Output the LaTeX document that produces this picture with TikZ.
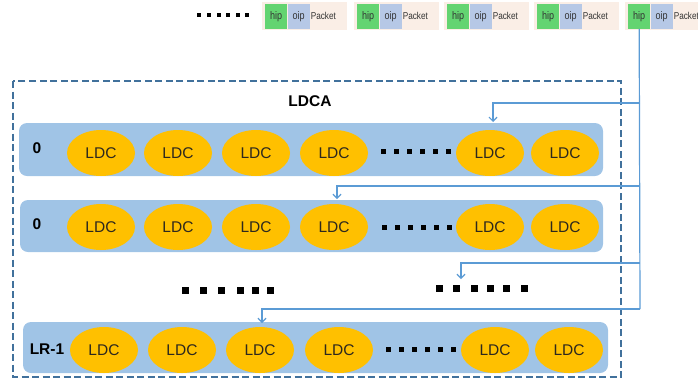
\documentclass[tikz,border=0pt]{standalone}
\usepackage{fontspec}
\setmainfont{Liberation Sans}
\newfontfamily\condfont[FakeStretch=0.82]{Liberation Sans}
\usetikzlibrary{arrows.meta,shapes.geometric}
\definecolor{bandblue}{RGB}{160,196,230}
\definecolor{gold}{RGB}{255,192,0}
\definecolor{dashblue}{RGB}{65,113,156}
\definecolor{connblue}{RGB}{91,155,213}
\definecolor{hipgreen}{RGB}{99,212,113}
\definecolor{oipblue}{RGB}{182,200,230}
\definecolor{beige}{RGB}{250,238,230}
\definecolor{ldctext}{RGB}{45,40,30}
\tikzset{
  band/.style={fill=bandblue, rounded corners=8pt},
  ldc/.style={ellipse, fill=gold, minimum width=68pt, minimum height=46pt, inner sep=0pt,
    font=\fontsize{15.5}{18}\selectfont, text=ldctext},
  rowlabel/.style={font=\fontsize{15.5}{18}\selectfont\bfseries},
  hipbox/.style={fill=hipgreen, minimum width=22pt, minimum height=25pt, inner sep=0pt,
    anchor=north west, font=\condfont\fontsize{11}{13}\selectfont, text=black!80},
  oipbox/.style={fill=oipblue, minimum width=22pt, minimum height=25pt, inner sep=0pt,
    anchor=west, font=\condfont\fontsize{11}{13}\selectfont, text=black!80},
  pkttext/.style={inner sep=0.3pt, anchor=west, font=\condfont\fontsize{10}{12}\selectfont, text=black!80},
  conn/.style={draw=connblue, line width=1.2pt},
  connarrow/.style={conn, -{Straight Barb[length=4pt,width=8pt]}},
  sdot/.style={fill=black, minimum size=#1, inner sep=0pt, draw=none},
}
\begin{document}
\begin{tikzpicture}[x=1pt,y=-1pt]
\useasboundingbox (0,0) rectangle (698,381);

% packets
\foreach \x [count=\i] in {265,357,447,537,628} {
  \fill[beige] (\x-3,2) rectangle (\x+82,30);
  \node[hipbox] (h\i) at (\x,3.5) {hip};
  \node[oipbox] (o\i) at (h\i.east) {oip};
  \node[pkttext] (p\i) at ([xshift=0.5pt]o\i.east) {Packet};
}
% top dots
\foreach \x [count=\i] in {199,209,219,228,238,247}
  \node[sdot=3.5pt] (td\i) at (\x,15) {};

% dashed frame
\draw[dashblue, line width=2.6pt, dash pattern=on 7pt off 3.5pt] (13,81) rectangle (621,377);
\node[rowlabel] (ldca) at (310,101) {LDCA};

% bands
\fill[band] (19,123) rectangle (603,176);
\fill[band] (20,200) rectangle (603,252);
\fill[band] (23,322) rectangle (608,373);

\node[rowlabel] (l1) at (37,148) {0};
\node[rowlabel] (l2) at (37,224) {0};
\node[rowlabel] (l3) at (47,349) {LR-1};

% ellipses
\foreach \x [count=\i] in {101,178,256,334,490,565}
  \node[ldc] (a\i) at (\x,153) {LDC};
\foreach \x [count=\i] in {101,178,256,334,490,565}
  \node[ldc] (b\i) at (\x,227) {LDC};
\foreach \x [count=\i] in {104,182,260,339,495,569}
  \node[ldc] (c\i) at (\x,350) {LDC};

% small dots in rows
\foreach \x [count=\i] in {383,396,409,422,435,448} {
  \node[sdot=5pt] (ad\i) at (\x,151) {};
  \node[sdot=5pt] (bd\i) at (\x+1,227) {};
  \node[sdot=5pt] (cd\i) at (\x+5,349) {};
}
% middle dots
\foreach \x [count=\i] in {185,203,221,240,255,270}
  \node[sdot=7pt] (ml\i) at (\x,290) {};
\foreach \x [count=\i] in {439,456,474,490,506,524}
  \node[sdot=7pt] (mr\i) at (\x,288) {};

% connectors
\coordinate (j1) at (640,103);
\coordinate (j2) at (640,186);
\coordinate (j3) at (640,263);
\coordinate (j4) at (640,309);
\coordinate (t1) at (493,122);
\coordinate (t2) at (337,199);
\coordinate (t3) at (461,279);
\coordinate (t4) at (262,323);
\draw[conn] (h5.south) -- (j4);
\draw[connarrow] (j1) -| (t1);
\draw[connarrow] (j2) -| (t2);
\draw[connarrow] (j3) -| (t3);
\draw[connarrow] (j4) -| (t4);
\end{tikzpicture}
\end{document}
